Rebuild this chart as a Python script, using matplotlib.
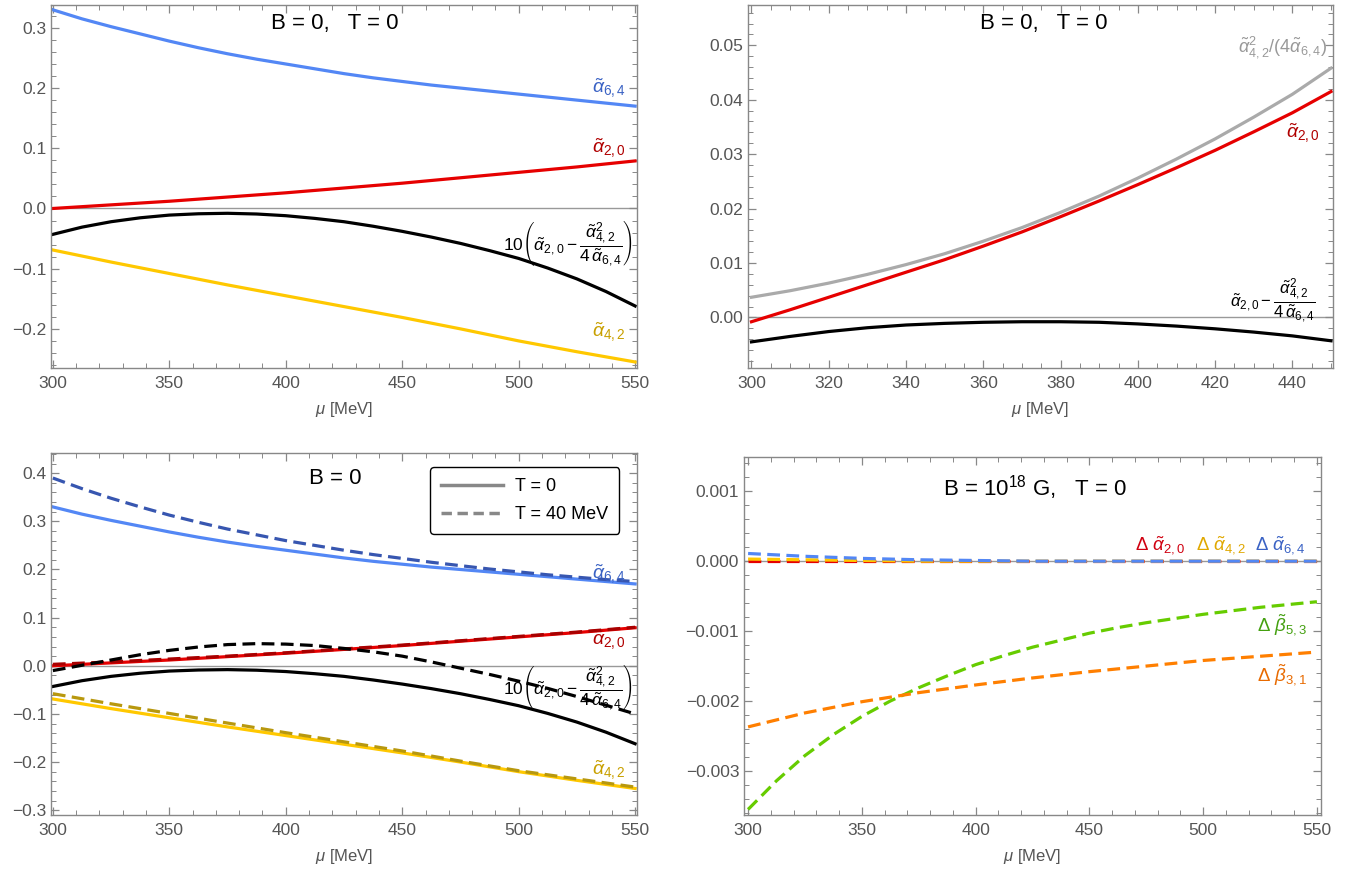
import matplotlib as mpl
import matplotlib.pyplot as plt
from matplotlib.ticker import MultipleLocator
from matplotlib.lines import Line2D

mpl.rcParams['font.family'] = ['Liberation Sans', 'DejaVu Sans']
mpl.rcParams['mathtext.fontset'] = 'custom'
mpl.rcParams['mathtext.rm'] = 'Liberation Sans'
mpl.rcParams['mathtext.it'] = 'Liberation Sans:italic'
mpl.rcParams['mathtext.bf'] = 'Liberation Sans:bold'

# ---- data ----
mu = [300, 325, 350, 375, 400, 425, 450, 475, 500, 525, 550]
mu_f = [300, 312.5, 325, 337.5, 350, 362.5, 375, 387.5, 400, 412.5, 425,
        437.5, 450, 462.5, 475, 487.5, 500, 512.5, 525, 537.5, 550]

a64_T0 = [0.330, 0.315, 0.302, 0.290, 0.278, 0.267, 0.257, 0.248, 0.240, 0.232, 0.224,
          0.217, 0.211, 0.205, 0.200, 0.195, 0.190, 0.185, 0.180, 0.175, 0.170]
a20_T0 = [0.000, 0.006, 0.012, 0.019, 0.026, 0.034, 0.042, 0.051, 0.060, 0.069, 0.079]
comb_T0 = [-0.043, -0.031, -0.022, -0.0155, -0.011, -0.0088, -0.008, -0.0092, -0.012, -0.0165, -0.022,
           -0.0295, -0.038, -0.0475, -0.058, -0.070, -0.083, -0.099, -0.117, -0.138, -0.162]
a42_T0 = [-0.069, -0.089, -0.108, -0.127, -0.145, -0.163, -0.181, -0.200, -0.220, -0.238, -0.255]

a64_T40 = [0.390, 0.368, 0.348, 0.330, 0.313, 0.298, 0.284, 0.272, 0.260, 0.250, 0.240,
           0.231, 0.223, 0.215, 0.208, 0.201, 0.195, 0.189, 0.184, 0.179, 0.175]
a20_T40 = [0.003, 0.008, 0.014, 0.020, 0.027, 0.035, 0.043, 0.052, 0.061, 0.070, 0.080]
comb_T40 = [-0.010, 0.001, 0.012, 0.023, 0.032, 0.039, 0.044, 0.046, 0.045, 0.042, 0.036,
            0.029, 0.020, 0.008, -0.005, -0.018, -0.032, -0.047, -0.064, -0.082, -0.100]
a42_T40 = [-0.058, -0.079, -0.099, -0.119, -0.139, -0.158, -0.177, -0.198, -0.218, -0.235, -0.252]

mu_zoom = [300, 310, 320, 330, 340, 350, 360, 370, 380, 390, 400, 410, 420, 430, 440, 450]
ratio_zoom = [0.0037, 0.0049, 0.0063, 0.0079, 0.0097, 0.0117, 0.0140, 0.0165,
              0.0193, 0.0223, 0.0256, 0.0291, 0.0328, 0.0368, 0.0410, 0.0458]
a20_zoom = [-0.0008, 0.0014, 0.0037, 0.0060, 0.0083, 0.0106, 0.0131, 0.0157,
            0.0185, 0.0214, 0.0244, 0.0275, 0.0307, 0.0341, 0.0376, 0.0415]
diff_zoom = [-0.0045, -0.0035, -0.0026, -0.0019, -0.0014, -0.0011, -0.0009, -0.0008,
             -0.0008, -0.0009, -0.0012, -0.0016, -0.0021, -0.0027, -0.0034, -0.0043]

d_a64 = [0.00011, 0.00007, 0.00004, 0.00002, 0.00001, 0.0, 0.0, 0.0, 0.0, 0.0, 0.0]
d_a42 = [0.00003, 0.00002, 0.00001, 0.0, 0.0, 0.0, 0.0, 0.0, 0.0, 0.0, 0.0]
d_a20 = [0.0, 0.0, 0.0, 0.0, 0.0, 0.0, 0.0, 0.0, 0.0, 0.0, 0.0]
d_b53 = [-0.00355, -0.00314, -0.00278, -0.00248, -0.00222, -0.00200, -0.00181, -0.00164, -0.00148,
         -0.00135, -0.00123, -0.00113, -0.00103, -0.00095, -0.00088, -0.00082, -0.00076,
         -0.00071, -0.00066, -0.00062, -0.00058]
d_b31 = [-0.00237, -0.00217, -0.00201, -0.00188, -0.00177, -0.00167, -0.00158, -0.00150, -0.00142, -0.00136, -0.00130]

BLUE, BLUE_D = '#5387f5', '#3756b0'
RED, RED_D = '#e60000', '#a80000'
YEL, YEL_D = '#ffc800', '#b8980e'
GREEN, ORANGE = '#66cc00', '#ff7f00'
GRAY = '#aaaaaa'
FRAME = '#888888'
TXT = '#555555'

W, H = 1361, 877
fig = plt.figure(figsize=(W / 100, H / 100), dpi=100)


def make_ax(l, r, t, b):
    return fig.add_axes([l / W, 1 - b / H, (r - l) / W, (b - t) / H])


def style(ax, xlim, ylim, xmaj, xmin, ymaj, ymin, yfmt):
    ax.set_xlim(*xlim)
    ax.set_ylim(*ylim)
    ax.xaxis.set_major_locator(MultipleLocator(xmaj))
    ax.xaxis.set_minor_locator(MultipleLocator(xmin))
    ax.yaxis.set_major_locator(MultipleLocator(ymaj))
    ax.yaxis.set_minor_locator(MultipleLocator(ymin))
    ax.yaxis.set_major_formatter(mpl.ticker.FuncFormatter(
        lambda v, p: (yfmt % v).replace('-', '\u2212') if abs(v) > 1e-12 else yfmt % 0))
    ax.tick_params(which='both', direction='in', top=True, right=True, color=FRAME,
                   labelcolor=TXT, labelsize=12.5)
    ax.tick_params(which='major', length=6, width=0.9)
    ax.tick_params(which='minor', length=3.5, width=0.7)
    ax.tick_params(axis='x', pad=6)
    for s in ax.spines.values():
        s.set_color(FRAME)
        s.set_linewidth(1.0)
    ax.axhline(0, color='#999999', lw=1.0, zorder=1)
    ax.set_xlabel(r'$\mu$ [MeV]', color=TXT, fontsize=12, labelpad=6)


lw = 2.3
frac = r'\left(\tilde{\alpha}_{2,0}-\dfrac{\tilde{\alpha}_{4,2}^{2}}{4\,\tilde{\alpha}_{6,4}}\right)'

# ---- top left ----
ax1 = make_ax(51, 637, 5, 368)
style(ax1, (299.2, 550.8), (-0.265, 0.338), 50, 10, 0.1, 0.02, '%.1f')
ax1.plot(mu_f, a64_T0, color=BLUE, lw=lw)
ax1.plot(mu, a20_T0, color=RED, lw=lw)
ax1.plot(mu_f, comb_T0, color='black', lw=lw)
ax1.plot(mu, a42_T0, color=YEL, lw=lw)
ax1.text(546, 0.199, r'$\tilde{\alpha}_{6,4}$', color='#3a62c4', fontsize=14, ha='right', va='center')
ax1.text(546, 0.100, r'$\tilde{\alpha}_{2,0}$', color='#b00000', fontsize=14, ha='right', va='center')
ax1.text(549, -0.060, r'$10' + frac + '$', color='black', fontsize=12.5, ha='right', va='center')
ax1.text(546, -0.206, r'$\tilde{\alpha}_{4,2}$', color='#c8a000', fontsize=14, ha='right', va='center')
ax1.text(0.485, 0.95, 'B = 0,   T = 0', transform=ax1.transAxes, fontsize=16, ha='center', va='center')

# ---- top right ----
ax2 = make_ax(748, 1333, 5, 368)
style(ax2, (299.1, 450.5), (-0.0093, 0.0574), 20, 5, 0.01, 0.002, '%.2f')
ax2.plot(mu_zoom, ratio_zoom, color=GRAY, lw=lw)
ax2.plot(mu_zoom, a20_zoom, color=RED, lw=lw)
ax2.plot(mu_zoom, diff_zoom, color='black', lw=lw)
ax2.text(449, 0.0497, r'$\tilde{\alpha}_{4,2}^{2}/(4\tilde{\alpha}_{6,4})$', color='#999999', fontsize=13,
         ha='right', va='center')
ax2.text(447, 0.0338, r'$\tilde{\alpha}_{2,0}$', color='#b00000', fontsize=14, ha='right', va='center')
ax2.text(446, 0.0030, r'$\tilde{\alpha}_{2,0}-\dfrac{\tilde{\alpha}_{4,2}^{2}}{4\,\tilde{\alpha}_{6,4}}$',
         color='black', fontsize=12, ha='right', va='center')
ax2.text(0.505, 0.95, 'B = 0,   T = 0', transform=ax2.transAxes, fontsize=16, ha='center', va='center')

# ---- bottom left ----
ax3 = make_ax(51, 637, 453, 815)
style(ax3, (299.2, 550.8), (-0.31, 0.442), 50, 10, 0.1, 0.02, '%.1f')
ax3.plot(mu_f, a64_T0, color=BLUE, lw=lw)
ax3.plot(mu_f, a64_T40, color=BLUE_D, lw=lw, dashes=(4, 2))
ax3.plot(mu, a20_T0, color=RED, lw=lw)
ax3.plot(mu, a20_T40, color=RED_D, lw=lw, dashes=(4, 2))
ax3.plot(mu_f, comb_T0, color='black', lw=lw)
ax3.plot(mu_f, comb_T40, color='black', lw=lw, dashes=(4, 2))
ax3.plot(mu, a42_T0, color=YEL, lw=lw)
ax3.plot(mu, a42_T40, color=YEL_D, lw=lw, dashes=(4, 2))
ax3.text(546, 0.19, r'$\tilde{\alpha}_{6,4}$', color='#3a62c4', fontsize=14, ha='right', va='center')
ax3.text(546, 0.054, r'$\tilde{\alpha}_{2,0}$', color='#b00000', fontsize=14, ha='right', va='center')
ax3.text(549, -0.046, r'$10' + frac + '$', color='black', fontsize=12.5, ha='right', va='center')
ax3.text(546, -0.218, r'$\tilde{\alpha}_{4,2}$', color='#c8a000', fontsize=14, ha='right', va='center')
ax3.text(0.485, 0.93, 'B = 0', transform=ax3.transAxes, fontsize=16, ha='center', va='center')
handles = [Line2D([], [], color='#888888', lw=2.5),
           Line2D([], [], color='#888888', lw=2.5, dashes=(3, 1.6))]
leg = ax3.legend(handles, ['T = 0', 'T = 40 MeV'], loc='upper right', bbox_to_anchor=(0.985, 0.985),
                 fontsize=13, handlelength=3.4, frameon=True, fancybox=True, framealpha=1,
                 borderpad=0.6, labelspacing=0.6, handletextpad=0.7)
leg.get_frame().set_edgecolor('black')
leg.get_frame().set_linewidth(1.0)

# ---- bottom right ----
ax4 = make_ax(744, 1321, 457, 815)
style(ax4, (298.2, 551.8), (-0.00363, 0.00149), 50, 10, 0.001, 0.0002, '%.3f')
ax4.plot(mu, d_a20, color=RED, lw=lw, dashes=(4, 2))
ax4.plot(mu, d_a42, color=YEL, lw=lw, dashes=(4, 2))
ax4.plot(mu, d_a64, color=BLUE, lw=lw, dashes=(4, 2))
ax4.plot(mu_f, d_b53, color=GREEN, lw=lw, dashes=(4, 2))
ax4.plot(mu, d_b31, color=ORANGE, lw=lw, dashes=(4, 2))
ax4.text(470, 0.00022, r'$\Delta\ \tilde{\alpha}_{2,0}$', color='#d00010', fontsize=13.5, ha='left', va='center')
ax4.text(497, 0.00022, r'$\Delta\ \tilde{\alpha}_{4,2}$', color='#e0a800', fontsize=13.5, ha='left', va='center')
ax4.text(523, 0.00022, r'$\Delta\ \tilde{\alpha}_{6,4}$', color='#3a62c4', fontsize=13.5, ha='left', va='center')
ax4.text(546, -0.00091, r'$\Delta\ \tilde{\beta}_{5,3}$', color='#44a010', fontsize=13.5, ha='right', va='center')
ax4.text(546, -0.00163, r'$\Delta\ \tilde{\beta}_{3,1}$', color='#e86a00', fontsize=13.5, ha='right', va='center')
ax4.text(0.505, 0.915, r'B = 10$^{18}$ G,   T = 0', transform=ax4.transAxes, fontsize=16,
         ha='center', va='center')

fig.savefig('out.png', dpi=100)
